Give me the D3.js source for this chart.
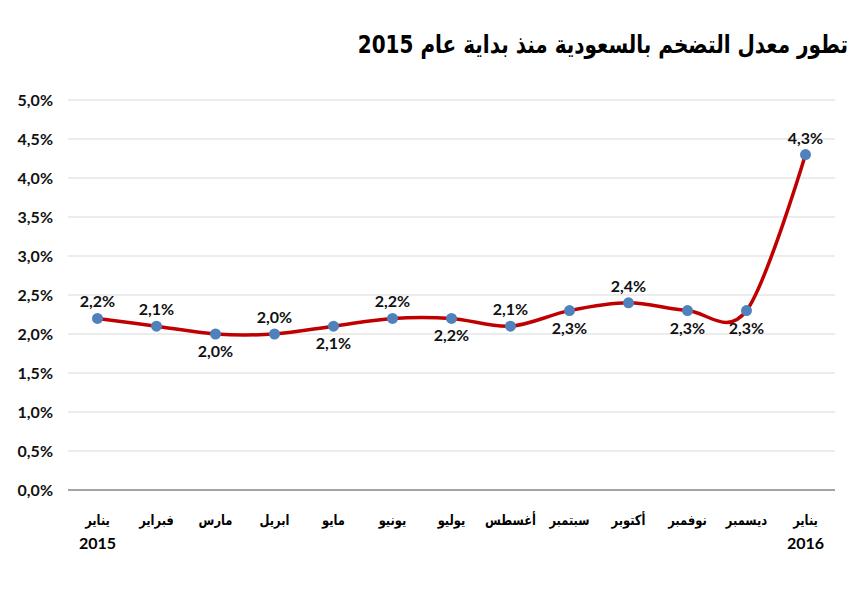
<!DOCTYPE html>
<html>
<head>
<meta charset="utf-8">
<script src="https://cdn.jsdelivr.net/npm/d3@7"></script>
<style>
  body { margin: 0; background: #fff; }
</style>
</head>
<body>
<script>
// Saudi inflation chart, Jan 2015 - Jan 2016

const months = ["يناير", "فبراير", "مارس", "ابريل", "مايو", "يونيو", "يوليو",
  "أغسطس", "سبتمبر", "أكتوبر", "نوفمبر", "ديسمبر", "يناير"];
const years = ["2015", "", "", "", "", "", "", "", "", "", "", "", "2016"];
const inflation = [2.2, 2.1, 2.0, 2.0, 2.1, 2.2, 2.2, 2.1, 2.3, 2.4, 2.3, 2.3, 4.3];
// label above (1) or below (-1) the point
const labelSide = [1, 1, -1, 1, -1, 1, -1, 1, -1, 1, -1, -1, 1];
const yTicks = [0, 0.5, 1, 1.5, 2, 2.5, 3, 3.5, 4, 4.5, 5];

const width = 867, height = 600;
const margin = {top: 100, right: 32, bottom: 110, left: 68};

const svg = d3.select("body").append("svg")
  .attr("width", width)
  .attr("height", height);

const x = d3.scalePoint()
  .domain(d3.range(months.length))
  .range([margin.left, width - margin.right])
  .padding(0.5);

const y = d3.scaleLinear()
  .domain([0, 5])
  .range([height - margin.bottom, margin.top]);

const fmt = v => d3.format(".1f")(v).replace(".", ",") + "%";
const numFont = "Lato, 'Open Sans', sans-serif";
const arFont = "'DejaVu Sans', sans-serif";

// title (DejaVu is wide, squeeze it horizontally)
svg.append("text")
  .attr("transform", "translate(848,53) scale(0.8,1)")
  .attr("direction", "rtl")
  .attr("text-anchor", "start")
  .style("font-family", arFont)
  .style("font-weight", "bold")
  .style("font-size", "25px")
  .attr("fill", "#000")
  .text("تطور معدل التضخم بالسعودية منذ بداية عام 2015");

// gridlines
svg.append("g")
  .selectAll("line")
  .data(yTicks.slice(1))
  .join("line")
    .attr("x1", margin.left)
    .attr("x2", width - margin.right)
    .attr("y1", d => y(d))
    .attr("y2", d => y(d))
    .attr("stroke", "#d9d9d9")
    .attr("stroke-width", 1);

// y axis labels
svg.append("g")
  .selectAll("text")
  .data(yTicks)
  .join("text")
    .attr("x", 53)
    .attr("y", d => y(d) + 5.5)
    .attr("text-anchor", "end")
    .style("font-family", numFont)
    .style("font-weight", "bold")
    .style("font-size", "16px")
    .attr("fill", "#111")
    .text(d => fmt(d));

// x axis baseline
const xAxis = d3.axisBottom(x).tickSize(0).tickFormat("");
svg.append("g")
  .attr("transform", `translate(0,${y(0)})`)
  .call(xAxis)
  .call(g => g.select(".domain")
    .attr("d", `M${margin.left},0H${width - margin.right}`)
    .attr("stroke", "#868686")
    .attr("stroke-width", 1.5));

// month labels
svg.append("g")
  .selectAll("text")
  .data(months)
  .join("text")
    .attr("transform", (d, i) => `translate(${x(i)},525) scale(0.82,1)`)
    .attr("text-anchor", "middle")
    .style("font-family", arFont)
    .style("font-weight", "bold")
    .style("font-size", "14px")
    .attr("fill", "#000")
    .text(d => d);

svg.append("g")
  .selectAll("text")
  .data(years)
  .join("text")
    .attr("x", (d, i) => x(i))
    .attr("y", 549)
    .attr("text-anchor", "middle")
    .style("font-family", numFont)
    .style("font-weight", "bold")
    .style("font-size", "16px")
    .attr("fill", "#000")
    .text(d => d);

// line
const line = d3.line()
  .x((d, i) => x(i))
  .y(d => y(d))
  .curve(d3.curveCardinal.tension(0));

svg.append("path")
  .datum(inflation)
  .attr("fill", "none")
  .attr("stroke", "#c00000")
  .attr("stroke-width", 3.5)
  .attr("stroke-linejoin", "round")
  .attr("d", line);

// markers
svg.append("g")
  .selectAll("circle")
  .data(inflation)
  .join("circle")
    .attr("cx", (d, i) => x(i))
    .attr("cy", d => y(d))
    .attr("r", 5.5)
    .attr("fill", "#4f81bd");

// data labels
svg.append("g")
  .selectAll("text")
  .data(inflation)
  .join("text")
    .attr("x", (d, i) => x(i))
    .attr("y", (d, i) => labelSide[i] > 0 ? y(d) - 11 : y(d) + 23)
    .attr("text-anchor", "middle")
    .style("font-family", numFont)
    .style("font-weight", "bold")
    .style("font-size", "16px")
    .attr("fill", "#111")
    .text(d => fmt(d));
</script>
</body>
</html>
